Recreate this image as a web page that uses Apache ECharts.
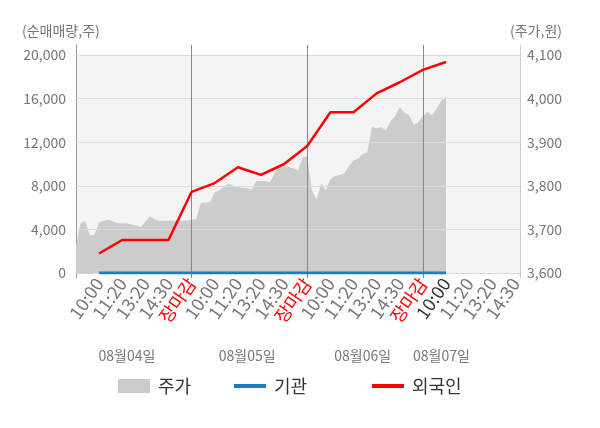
<!DOCTYPE html>
<html>
<head>
<meta charset="utf-8">
<script src="https://cdn.jsdelivr.net/npm/echarts@6/dist/echarts.min.js"></script>
<style>
html, body { margin: 0; padding: 0; background: #fff; }
#box { width: 600px; height: 428px; }
</style>
</head>
<body>
<div id="box"></div>
<script>
// slot labels on the time axis (first slot = market open, unlabeled)
var slotLabels = ['', '10:00', '11:20', '13:20', '14:30', '장마감',
                  '10:00', '11:20', '13:20', '14:30', '장마감',
                  '10:00', '11:20', '13:20', '14:30', '장마감',
                  '10:00', '11:20', '13:20', '14:30'];
var dates = ['08월04일', '08월05일', '08월06일', '08월07일'];
var dateAt = [11, 37, 62, 79];
var stepsPerSlot = 5;

// 주가 (원), sampled every step from the open of 08/04
var price = [3662, 3715, 3718, 3686, 3688, 3716, 3720, 3722, 3718, 3714,
             3714, 3714, 3711, 3709, 3705, 3718, 3730, 3723, 3720, 3720,
             3720, 3720, 3720, 3720, 3720, 3722, 3724, 3761, 3761, 3763,
             3785, 3790, 3798, 3805, 3800, 3798, 3795, 3795, 3791, 3811,
             3811, 3811, 3809, 3830, 3848, 3848, 3843, 3840, 3835, 3865,
             3868, 3790, 3768, 3805, 3790, 3815, 3822, 3825, 3828, 3845,
             3858, 3862, 3873, 3877, 3935, 3932, 3935, 3927, 3948, 3960,
             3980, 3968, 3962, 3940, 3946, 3960, 3970, 3962, 3978, 3995,
             4005];
// 누적 순매매량 (주), one value per labeled slot starting at 08/04 10:00
var foreign = [1790, 3030, 3030, 3030, 7450, 8250, 9700, 9000,
               10000, 11650, 14750, 14750, 16480, 17500, 18640, 19360];
var inst = [0, 0, 0, 0, 0, 0, 0, 0, 0, 0, 0, 0, 0, 0, 0, 0];

var volMin = 0, volMax = 20000, volStep = 4000;
var priceMin = 3600, priceMax = 4100, priceStep = 100;

var total = (slotLabels.length - 1) * stepsPerSlot + 2;
var cats = [], priceData = [], foreignData = [], instData = [];
for (var i = 0; i < total; i++) {
  cats.push('p' + i);
  priceData.push(i < price.length ? price[i] : null);
  var s = i / stepsPerSlot - 1;
  var onSlot = i % stepsPerSlot === 0 && s >= 0 && s < foreign.length;
  foreignData.push(onSlot ? foreign[s] : null);
  instData.push(onSlot ? inst[s] : null);
}
var lastIdx = price.length - 1;

function timeLabel(idx) {
  if (idx % stepsPerSlot !== 0) return '';
  var t = slotLabels[idx / stepsPerSlot];
  if (!t) return '';
  if (t === '장마감') return '{r|' + t + '}';
  if (idx === lastIdx) return '{k|' + t + '}';
  return t;
}
function isDayEdge(idx) {
  return idx > 0 && idx % stepsPerSlot === 0 && slotLabels[idx / stepsPerSlot] === '장마감';
}

var font = 'Noto Sans CJK KR';
var barIcon = 'path://M0,0H32V4H0Z';
function legendAt(x, item) {
  return {
    left: x, top: 372,
    itemWidth: 32, itemHeight: 14,
    textStyle: { fontSize: 18, color: '#333', fontFamily: font, padding: [0, 0, 0, 3] },
    data: [item]
  };
}

var myChart = echarts.init(document.getElementById('box'));
var option = {
  animation: false,
  textStyle: { fontFamily: font },
  grid: [
    { left: 76, right: 80, top: 55, bottom: 155, backgroundColor: '#f4f4f4', show: true, borderWidth: 0 },
    { left: 76, right: 80, top: 45, bottom: 150 }
  ],
  graphic: [
    { type: 'text', left: 22, top: 24, style: { text: '(순매매량,주)', font: '14px "' + font + '"', fill: '#777' } },
    { type: 'text', right: 38, top: 24, style: { text: '(주가,원)', font: '14px "' + font + '"', fill: '#777' } }
  ],
  legend: [
    legendAt(113, { name: '주가', icon: 'rect' }),
    legendAt(229, { name: '기관', icon: barIcon }),
    legendAt(367, { name: '외국인', icon: barIcon })
  ],
  xAxis: [
    {
      type: 'category', gridIndex: 0, boundaryGap: false, data: cats,
      axisLine: { lineStyle: { color: '#aaa' } },
      axisTick: { show: false },
      axisLabel: {
        interval: 0, rotate: 55, margin: 7, fontSize: 18, color: '#777',
        formatter: function (v, idx) { return timeLabel(idx); },
        rich: { r: { color: '#ff0000', fontSize: 18 }, k: { color: '#333', fontSize: 18 } }
      },
      splitLine: { show: false }
    },
    {
      type: 'category', gridIndex: 0, boundaryGap: false, data: cats,
      position: 'bottom', offset: 72,
      axisLine: { show: false }, axisTick: { show: false },
      axisLabel: {
        interval: 0, margin: 4, fontSize: 14, color: '#777',
        formatter: function (v, idx) {
          var k = dateAt.indexOf(idx);
          return k >= 0 ? dates[k] : '';
        }
      }
    },
    {
      type: 'category', gridIndex: 1, boundaryGap: false, data: cats, z: 3,
      axisLine: { show: false }, axisTick: { show: false }, axisLabel: { show: false },
      splitLine: {
        show: true, interval: function (idx) { return isDayEdge(idx); },
        lineStyle: { color: '#888', width: 1 }
      }
    }
  ],
  yAxis: [
    {
      type: 'value', gridIndex: 0, position: 'left', z: 3,
      min: volMin, max: volMax, interval: volStep,
      axisLine: { show: false }, axisTick: { show: false },
      axisLabel: {
        margin: 10, fontSize: 14, color: '#777',
        formatter: function (v) { return v.toLocaleString('en-US'); }
      },
      splitLine: { lineStyle: { color: '#dcdcdc' } }
    },
    {
      type: 'value', gridIndex: 0, position: 'right',
      min: priceMin, max: priceMax, interval: priceStep,
      axisLine: { show: false }, axisTick: { show: false },
      axisLabel: {
        margin: 7, fontSize: 14, color: '#777',
        formatter: function (v) { return v.toLocaleString('en-US'); }
      },
      splitLine: { show: false }
    },
    {
      type: 'value', gridIndex: 1, position: 'left', min: 0, max: 1,
      axisLine: { show: true, lineStyle: { color: '#999' } },
      axisTick: { show: false }, axisLabel: { show: false }, splitLine: { show: false }
    },
    {
      type: 'value', gridIndex: 1, position: 'right', min: 0, max: 1,
      axisLine: { show: true, lineStyle: { color: '#ccc' } },
      axisTick: { show: false }, axisLabel: { show: false }, splitLine: { show: false }
    }
  ],
  series: [
    {
      name: '주가', type: 'line', xAxisIndex: 0, yAxisIndex: 1, z: 1,
      data: priceData, symbol: 'none',
      itemStyle: { color: '#cccccc' },
      lineStyle: { width: 0, color: '#cccccc' },
      areaStyle: { color: '#cccccc', opacity: 1 }
    },
    {
      name: '기관', type: 'line', xAxisIndex: 0, yAxisIndex: 0, z: 5,
      data: instData, connectNulls: true, symbol: 'none',
      itemStyle: { color: '#1a7dc8' },
      lineStyle: { width: 3, color: '#1a7dc8' }
    },
    {
      name: '외국인', type: 'line', xAxisIndex: 0, yAxisIndex: 0, z: 6,
      data: foreignData, connectNulls: true, symbol: 'none',
      itemStyle: { color: '#ff0000' },
      lineStyle: { width: 2.5, color: '#ff0000' }
    }
  ]
};
myChart.setOption(option);
</script>
</body>
</html>
